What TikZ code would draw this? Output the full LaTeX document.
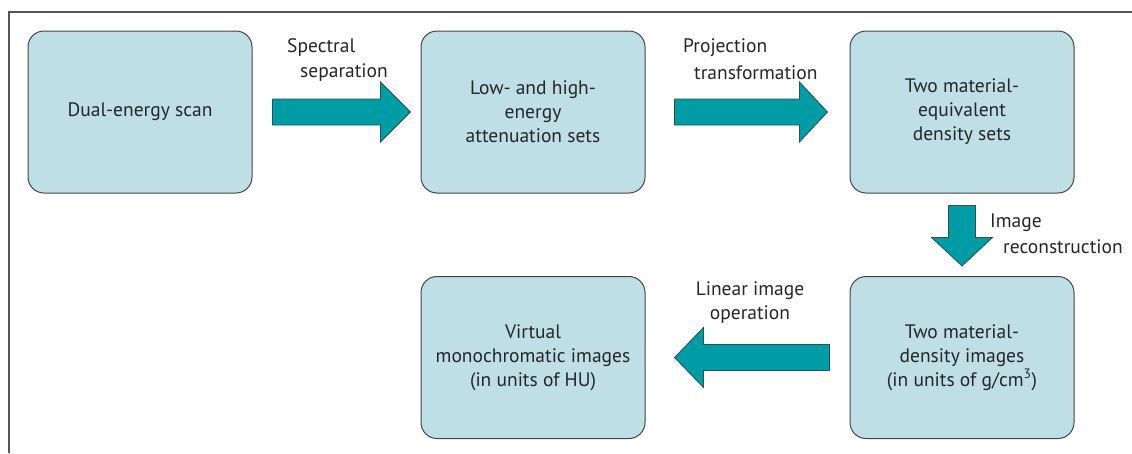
\documentclass[tikz,border=0pt]{standalone}
\usepackage{fontspec}
\setmainfont{PT Sans}
\usetikzlibrary{calc}
\begin{document}
\begin{tikzpicture}[x=1pt,y=-1pt,
  stepbox/.style={draw=boxline, fill=boxfill, line width=1pt, rounded corners=16pt,
    minimum width=224pt, minimum height=162pt, align=center, text=txt,
    font=\fontsize{19.5}{24}\selectfont, inner sep=0pt},
  lbl/.style={text=txt, font=\fontsize{19.5}{24}\selectfont, inner sep=0pt},
  blockarrow/.style={draw=arrline, fill=teal1, line width=0.8pt}]
\definecolor{boxfill}{HTML}{BEDFE5}
\definecolor{boxline}{HTML}{444444}
\definecolor{teal1}{HTML}{009CA6}
\definecolor{arrline}{HTML}{2F4F52}
\definecolor{txt}{HTML}{262626}
\definecolor{frame}{HTML}{555555}
\useasboundingbox (0,0) rectangle (1132,453);
% frame
\draw[frame, line width=1.2pt] (9,453) -- (9,12) -- (1132,12);
% boxes
\node[stepbox] (b1) at (140,112) {Dual-energy scan};
\node[stepbox] (b2) at (533,112) {Low- and high-\\energy\\attenuation sets};
\node[stepbox] (b3) at (962,112) {Two material-\\equivalent\\density sets};
\node[stepbox] (b4) at (962,357.5) {Two material-\\density images\\(in units of g/cm\textsuperscript{3})};
\node[stepbox] (b5) at (533,357.5) {Virtual\\monochromatic images\\(in units of HU)};
% block arrows
\draw[blockarrow] ($(b1.east)+(20,-13)$) -- ++(108,0) -- ++(0,-17) -- ($(b2.west)+(-10,0)$)
  -- ($(b1.east)+(128,30)$) -- ++(0,-17) -- ($(b1.east)+(20,13)$) -- cycle;
\draw[blockarrow] ($(b2.east)+(29,-13)$) -- ++(125,0) -- ++(0,-17) -- ($(b3.west)+(-22,0)$)
  -- ($(b2.east)+(154,30)$) -- ++(0,-17) -- ($(b2.east)+(29,13)$) -- cycle;
\draw[blockarrow] ($(b3.south)+(-13.5,12)$) -- ++(0,32) -- ++(-17,0) -- ($(b4.north)+(0,-10)$)
  -- ($(b3.south)+(30.5,44)$) -- ++(-17,0) -- ($(b3.south)+(13.5,12)$) -- cycle;
\draw[blockarrow] ($(b4.west)+(-20,-13)$) -- ++(-126,0) -- ++(0,-17) -- ($(b5.east)+(29,0)$)
  -- ($(b4.west)+(-146,30)$) -- ++(0,-17) -- ($(b4.west)+(-20,13)$) -- cycle;
% labels
\node[lbl, anchor=west] (l1) at (287,48) {Spectral};
\node[lbl, anchor=west] (l1b) at (300,73) {separation};
\node[lbl, anchor=west] (l2) at (683,48) {Projection};
\node[lbl, anchor=west] (l2b) at (694,73) {transformation};
\node[lbl, anchor=west] (l3) at (990,223) {Image};
\node[lbl, anchor=west] (l3b) at (1003,247) {reconstruction};
\node[lbl, align=center] (l4) at (750,303) {Linear image\\operation};
\end{tikzpicture}
\end{document}
